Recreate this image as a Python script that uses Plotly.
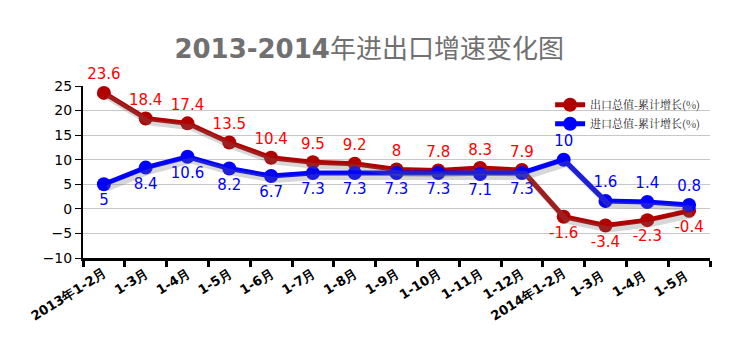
import plotly.graph_objects as go

categories = ["2013年1-2月", "1-3月", "1-4月", "1-5月", "1-6月", "1-7月", "1-8月", "1-9月",
              "1-10月", "1-11月", "1-12月", "2014年1-2月", "1-3月 ", "1-4月 ", "1-5月 "]
export_vals = [23.6, 18.4, 17.4, 13.5, 10.4, 9.5, 9.2, 8, 7.8, 8.3, 7.9, -1.6, -3.4, -2.3, -0.4]
import_vals = [5, 8.4, 10.6, 8.2, 6.7, 7.3, 7.3, 7.3, 7.3, 7.1, 7.3, 10, 1.6, 1.4, 0.8]
export_text_pos = ["top center"] * 11 + ["bottom center"] * 4
import_text_pos = ["bottom center"] * 11 + ["top center"] * 4
y_ticks = [-10, -5, 0, 5, 10, 15, 20, 25]

EXP_COLOR = "#b00000"
IMP_COLOR = "#0000ff"
YR = [-10, 25]
n = len(categories)

fig = go.Figure()

# shadows on offset axes
for vals in (export_vals, import_vals):
    fig.add_trace(go.Scatter(
        x=list(range(n)), y=vals, mode="lines",
        line=dict(color="rgba(110,110,110,0.28)", width=6),
        xaxis="x2", yaxis="y2", showlegend=False, hoverinfo="skip"))

fig.add_trace(go.Scatter(
    x=categories, y=export_vals, mode="lines+markers+text",
    name="出口总值-累计增长(%)", cliponaxis=False,
    line=dict(color=EXP_COLOR, width=5),
    marker=dict(size=14, color=EXP_COLOR),
    text=[str(v) for v in export_vals], textposition=export_text_pos,
    textfont=dict(color="#ff0000", size=15, family="DejaVu Sans")))
fig.add_trace(go.Scatter(
    x=categories, y=import_vals, mode="lines+markers+text",
    name="进口总值-累计增长(%)", cliponaxis=False,
    line=dict(color=IMP_COLOR, width=5),
    marker=dict(size=14, color=IMP_COLOR),
    text=[str(v) for v in import_vals], textposition=import_text_pos,
    textfont=dict(color="#0000ff", size=15, family="DejaVu Sans")))

fig.update_layout(
    width=731, height=360,
    margin=dict(l=83, r=21, t=86, b=102),
    paper_bgcolor="white", plot_bgcolor="white",
    title=dict(text="<b>2013-2014</b>年进出口增速变化图", x=0.505, xanchor="center",
               y=0.865, yanchor="middle",
               font=dict(size=26, color="#707070", family="DejaVu Sans, Noto Sans CJK SC")),
    font=dict(family="DejaVu Sans, Noto Sans CJK SC", color="black"),
    showlegend=True,
    legend=dict(x=0.745, y=0.975, xanchor="left", yanchor="top",
                bgcolor="rgba(255,255,255,0)", tracegroupgap=0,
                font=dict(size=11, family="Noto Serif CJK SC, Noto Sans CJK SC", color="#222"),
                itemwidth=30),
    xaxis=dict(type="category", tickangle=-32, ticks="outside", tickson="boundaries",
               ticklen=6, tickwidth=3, tickcolor="black",
               showline=True, linecolor="black", linewidth=3, showgrid=False,
               tickfont=dict(size=13, family="DejaVu Sans", weight="bold", color="black"),
               range=[-0.5, n - 0.5]),
    yaxis=dict(range=YR, tickvals=y_ticks, ticks="outside", ticklen=6, tickcolor="black",
               showline=True, linecolor="black", linewidth=2,
               gridcolor="#c8c8c8", gridwidth=1, zeroline=False,
               tickfont=dict(size=14, family="DejaVu Sans", color="black")),
    xaxis2=dict(overlaying="x", range=[-0.5 - 0.08, n - 0.5 - 0.08], visible=False),
    yaxis2=dict(overlaying="y", range=[YR[0] + 0.8, YR[1] + 0.8], visible=False),
)

fig.write_html("out.html")
